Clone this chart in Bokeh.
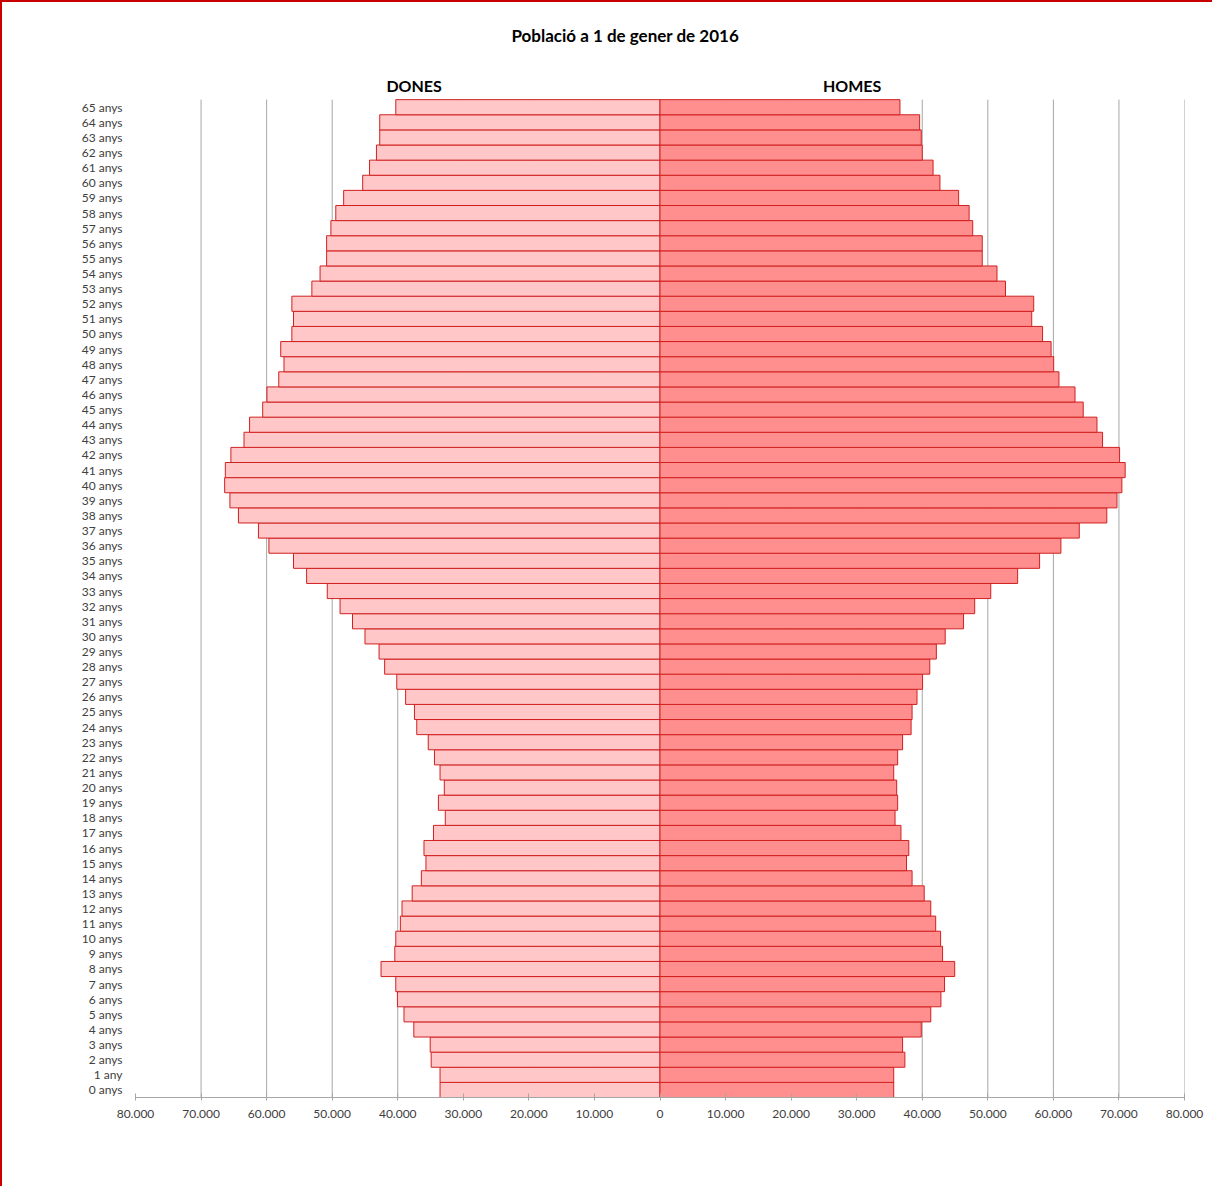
from bokeh.plotting import figure
from bokeh.models import Range1d, FixedTicker, Label, ColumnDataSource
from bokeh.embed import file_html
from bokeh.resources import INLINE

# ---- data ----
ages = list(range(0, 66))
age_labels = ["1 any" if a == 1 else f"{a} anys" for a in ages]

dones = [33550, 33550, 34900, 35050, 37550, 39050, 40050, 40300, 42550, 40450,
         40300, 39600, 39350, 37800, 36400, 35700, 36000, 34550, 32750, 33800,
         32900, 33550, 34400, 35350, 37100, 37450, 38800, 40150, 42000, 42850,
         45000, 46900, 48800, 50750, 53900, 55900, 59650, 61250, 64300, 65600,
         66400, 66300, 65450, 63450, 62600, 60600, 59950, 58150, 57350, 57850,
         56150, 55900, 56150, 53100, 51850, 50850, 50850, 50200, 49450, 48250,
         45350, 44300, 43250, 42750, 42750, 40300]

homes = [35650, 35650, 37350, 37000, 39850, 41300, 42850, 43400, 44950, 43100,
         42800, 42050, 41300, 40300, 38450, 37600, 37950, 36750, 35850, 36250,
         36100, 35650, 36250, 37000, 38300, 38450, 39200, 40050, 41150, 42150,
         43500, 46300, 48000, 50450, 54550, 57900, 61150, 63950, 68150, 69700,
         70450, 70950, 70100, 67500, 66650, 64550, 63300, 60850, 60050, 59650,
         58350, 56700, 57000, 52700, 51400, 49150, 49150, 47700, 47150, 45550,
         42700, 41650, 40000, 39850, 39600, 36600]

x_tick_values = [-80000, -70000, -60000, -50000, -40000, -30000, -20000, -10000,
                 0, 10000, 20000, 30000, 40000, 50000, 60000, 70000, 80000]
x_tick_labels = ["80.000", "70.000", "60.000", "50.000", "40.000", "30.000",
                 "20.000", "10.000", "0", "10.000", "20.000", "30.000",
                 "40.000", "50.000", "60.000", "70.000", "80.000"]
grid_values = [-70000, -60000, -50000, -40000, -30000, -20000, -10000,
               10000, 20000, 30000, 40000, 50000, 60000, 70000, 80000]

title_text = "Població a 1 de gener de 2016"
series_names = ["DONES", "HOMES"]

FONT = "Lato"
Y_TOP = 65.5

p = figure(width=1212, height=1186, output_backend="svg", toolbar_location=None,
           x_range=Range1d(-80000, 80000), y_range=Range1d(-0.5, 71.0),
           min_border_left=135, min_border_top=16, min_border_right=28,
           min_border_bottom=89)
p.styles = {"box-shadow": "inset 2px 2px 0 0 #C80000"}
p.outline_line_color = None
p.background_fill_color = "white"
p.border_fill_color = None
p.xgrid.visible = False
p.ygrid.visible = False

# vertical gridlines, only over the bar area
p.segment(x0=grid_values, x1=grid_values, y0=[-0.5] * len(grid_values),
          y1=[Y_TOP] * len(grid_values), line_color="#A6A6A6", line_width=1)

src = ColumnDataSource(dict(age=ages,
                            dleft=[-v for v in dones],
                            hright=homes))

p.hbar(y="age", left="dleft", right=0, height=1.0, source=src,
       fill_color="#FFC7C7", line_color="#D02020", line_width=1)
p.hbar(y="age", left=0, right="hright", height=1.0, source=src,
       fill_color="#FF8F8F", line_color="#D02020", line_width=1)

# x axis
p.xaxis.ticker = FixedTicker(ticks=x_tick_values)
p.xaxis.major_label_overrides = {v: l for v, l in zip(x_tick_values, x_tick_labels)}
p.xaxis.axis_line_color = "#A6A6A6"
p.xaxis.major_tick_line_color = "#A6A6A6"
p.xaxis.major_tick_in = 4
p.xaxis.major_tick_out = 3
p.xaxis.minor_tick_line_color = None
p.xaxis.major_label_text_font = FONT
p.xaxis.major_label_text_font_size = "12px"
p.xaxis.major_label_text_color = "#404040"
p.xaxis.major_label_standoff = 9

# y axis
p.yaxis.ticker = FixedTicker(ticks=ages)
p.yaxis.major_label_overrides = {a: l for a, l in zip(ages, age_labels)}
p.yaxis.axis_line_color = None
p.yaxis.major_tick_line_color = None
p.yaxis.minor_tick_line_color = None
p.yaxis.major_label_text_font = FONT
p.yaxis.major_label_text_font_size = "12px"
p.yaxis.major_label_text_color = "#404040"
p.yaxis.major_label_standoff = 7

# titles
p.add_layout(Label(x=-5300, y=69.73, text=title_text, text_align="center",
                   text_baseline="middle", text_font=FONT, text_font_style="bold",
                   text_font_size="17px", text_color="#000000"))
p.add_layout(Label(x=-37500, y=66.43, text=series_names[0], text_align="center",
                   text_baseline="middle", text_font=FONT, text_font_style="bold",
                   text_font_size="16px", text_color="#000000"))
p.add_layout(Label(x=29300, y=66.43, text=series_names[1], text_align="center",
                   text_baseline="middle", text_font=FONT, text_font_style="bold",
                   text_font_size="16px", text_color="#000000"))

open("out.html", "w").write(file_html(p, INLINE))
